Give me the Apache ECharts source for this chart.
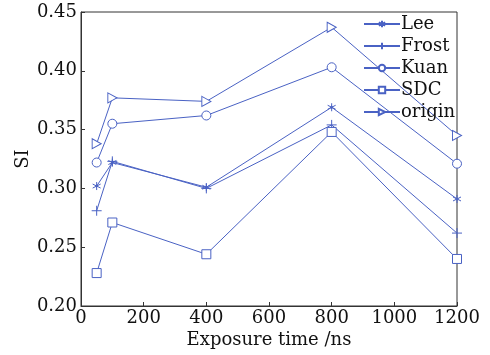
<!DOCTYPE html>
<html>
<head>
<meta charset="utf-8">
<script src="https://cdn.jsdelivr.net/npm/echarts@6/dist/echarts.min.js"></script>
<style>
  html, body { margin: 0; padding: 0; background: #fff; }
  #chart { width: 490px; height: 355px; }
</style>
</head>
<body>
<div id="chart"></div>
<script>
const times = [50, 100, 400, 800, 1200]
const lee = [0.302, 0.322, 0.301, 0.369, 0.291]
const frost = [0.281, 0.323, 0.300, 0.354, 0.262]
const kuan = [0.322, 0.355, 0.362, 0.403, 0.321]
const sdc = [0.228, 0.271, 0.244, 0.348, 0.240]
const origin = [0.338, 0.377, 0.374, 0.437, 0.345]

const blue = '#4a62c4'
const font = 'DejaVu Serif'

const chart = echarts.init(document.getElementById('chart'))

const mk = (name, vals, symbol, size) => ({
  name,
  type: 'line',
  data: times.map((t, i) => [t, vals[i]]),
  symbol,
  symbolSize: size,
  showAllSymbol: true,
  lineStyle: { color: blue, width: 1 },
  itemStyle: { color: '#fff', borderColor: blue, borderWidth: 1 },
  emphasis: { disabled: true },
  z: 3,
})

chart.setOption({
  backgroundColor: '#fff',
  animation: false,
  grid: { left: 81, right: 33, top: 12, bottom: 49 },
  legend: {
    orient: 'vertical',
    left: 363,
    top: 15,
    padding: 0,
    itemWidth: 36,
    itemHeight: 8,
    itemGap: 4,
    textStyle: { fontFamily: font, fontSize: 18, color: '#111', padding: [0, 0, 0, -4] },
    data: ['Lee', 'Frost', 'Kuan', 'SDC', 'origin'],
  },
  xAxis: {
    type: 'value',
    min: 0,
    max: 1200,
    interval: 200,
    name: 'Exposure time /ns',
    nameLocation: 'middle',
    nameGap: 25,
    nameMoveOverlap: false,
    nameTextStyle: { fontFamily: font, fontSize: 18, color: '#111' },
    axisLine: { lineStyle: { color: '#333', width: 1 } },
    axisTick: { inside: true, length: 4, lineStyle: { color: '#333' } },
    axisLabel: { fontFamily: font, fontSize: 18, color: '#111', margin: 3, formatter: v => String(v) },
    splitLine: { show: false },
  },
  yAxis: {
    type: 'value',
    min: 0.2,
    max: 0.45,
    interval: 0.05,
    name: 'SI',
    nameLocation: 'middle',
    nameGap: 49,
    nameMoveOverlap: false,
    nameRotate: 90,
    nameTextStyle: { fontFamily: font, fontSize: 18, color: '#111' },
    axisLine: { lineStyle: { color: '#333', width: 1 } },
    axisTick: { inside: true, length: 4, lineStyle: { color: '#333' } },
    axisLabel: { fontFamily: font, fontSize: 18, color: '#111', margin: 4, formatter: v => v.toFixed(2) },
    splitLine: { show: false },
  },
  series: [
    mk('Lee', lee, 'path://M0,-1L0,1M-0.87,-0.5L0.87,0.5M-0.87,0.5L0.87,-0.5M0,-0.3L0.3,0L0,0.3L-0.3,0Z', 8),
    mk('Frost', frost, 'path://M0,-1L0,1M-1,0L1,0', 10),
    mk('Kuan', kuan, 'circle', 9),
    mk('SDC', sdc, 'rect', 9),
    mk('origin', origin, 'path://M0,0L1,0.5L0,1Z', [9, 10]),
  ],
})

// top and right frame of the plot box
const rect = chart.getModel().getComponent('grid').coordinateSystem.getRect()
chart.setOption({
  graphic: [{
    type: 'rect',
    shape: { x: rect.x, y: rect.y, width: rect.width, height: rect.height },
    style: { fill: null, stroke: '#333', lineWidth: 1 },
    silent: true,
    z: 0,
  }],
})
</script>
</body>
</html>
